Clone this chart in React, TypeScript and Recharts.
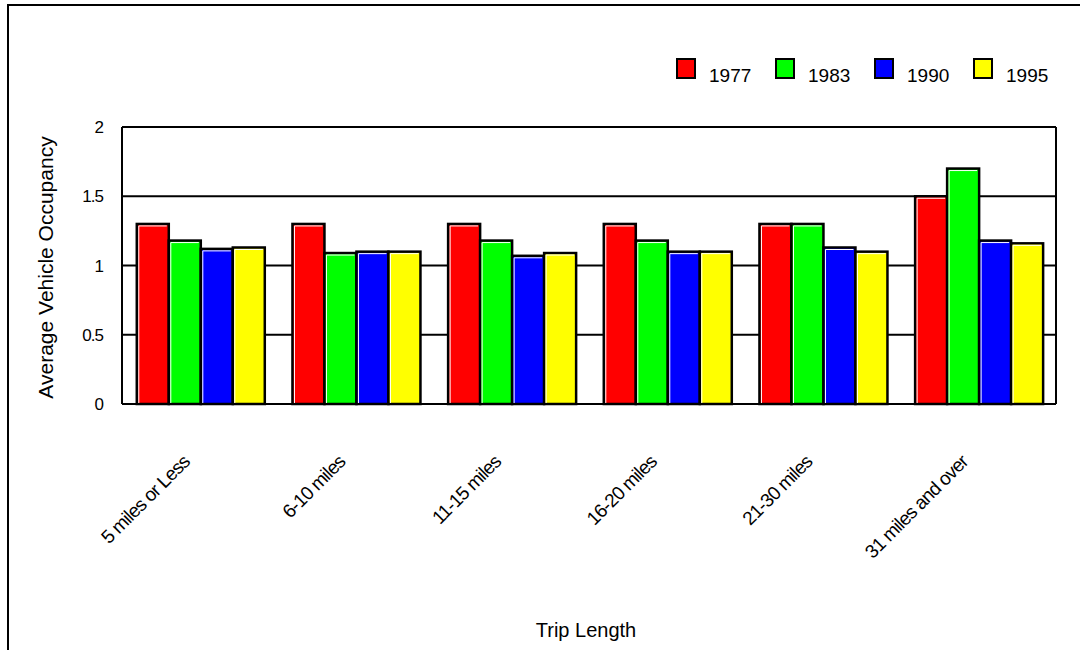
import { BarChart, Bar, XAxis, YAxis, CartesianGrid, Legend, Label } from "recharts";

const tripLengths = [
  "5 miles or Less",
  "6-10 miles",
  "11-15 miles",
  "16-20 miles",
  "21-30 miles",
  "31 miles and over",
];
const occ1977 = [1.3, 1.3, 1.3, 1.3, 1.3, 1.5];
const occ1983 = [1.18, 1.09, 1.18, 1.18, 1.3, 1.7];
const occ1990 = [1.12, 1.1, 1.07, 1.1, 1.13, 1.18];
const occ1995 = [1.13, 1.1, 1.09, 1.1, 1.1, 1.16];
const yTicks = [0, 0.5, 1, 1.5, 2];

const series = [
  { key: "y1977", name: "1977", color: "#ff0000" },
  { key: "y1983", name: "1983", color: "#00ff00" },
  { key: "y1990", name: "1990", color: "#0000ff" },
  { key: "y1995", name: "1995", color: "#ffff00" },
];

const data = tripLengths.map((trip, i) => ({
  trip,
  y1977: occ1977[i],
  y1983: occ1983[i],
  y1990: occ1990[i],
  y1995: occ1995[i],
}));

// bar with a black outline and a thin white bevel on the top/left edge
function BevelBar(props: any) {
  const { x, y, width, height, fill } = props;
  if (!height || height <= 0) return null;
  return (
    <g>
      <rect x={x} y={y} width={width} height={height} fill={fill} stroke="#000" strokeWidth={2.5} />
      <polyline
        points={`${x + 2},${y + height - 1} ${x + 2},${y + 2} ${x + width - 2},${y + 2}`}
        fill="none"
        stroke="#fff"
        strokeWidth={1}
      />
    </g>
  );
}

function TripTick(props: any) {
  const { x, y, payload } = props;
  const tx = x - 9;
  const ty = y + 51;
  return (
    <text
      x={tx}
      y={ty}
      transform={`rotate(-45 ${tx} ${ty})`}
      textAnchor="end"
      fontSize={19}
      letterSpacing={-0.8}
      fill="#000"
    >
      {payload.value}
    </text>
  );
}

function YearLegend(props: any) {
  const { payload } = props;
  return (
    <div style={{ display: "flex" }}>
      {payload.map((p: any) => (
        <div key={p.value} style={{ display: "flex", alignItems: "flex-start", width: 99 }}>
          <span
            style={{
              display: "inline-block",
              width: 16,
              height: 17,
              background: p.color,
              border: "2px solid #000",
            }}
          />
          <span style={{ marginLeft: 13, marginTop: 8, fontSize: 19, lineHeight: "19px", color: "#000" }}>
            {p.value}
          </span>
        </div>
      ))}
    </div>
  );
}

export default function App() {
  return (
    <div
      style={{
        position: "absolute",
        left: 0,
        top: 0,
        width: 1080,
        height: 650,
        overflow: "hidden",
        background: "#fff",
        fontFamily: "'Liberation Sans', Arial, sans-serif",
      }}
    >
      <div
        style={{
          position: "absolute",
          left: 7,
          top: 4,
          width: 2000,
          height: 2000,
          border: "2px solid #000",
        }}
      />
      <BarChart
        width={1080}
        height={650}
        data={data}
        margin={{ top: 127, right: 23, bottom: 0, left: 0 }}
        barCategoryGap="9.5%"
        barGap={0}
      >
        <CartesianGrid vertical={false} stroke="#000" strokeWidth={2} />
        <XAxis
          dataKey="trip"
          height={246}
          interval={0}
          tickLine={false}
          axisLine={{ stroke: "#000", strokeWidth: 2 }}
          tick={<TripTick />}
        >
          <Label
            content={(p: any) => {
              const vb = p.viewBox;
              return (
                <text x={vb.x + vb.width / 2 - 3} y={vb.y + 233} textAnchor="middle" fontSize={20} fill="#000">
                  Trip Length
                </text>
              );
            }}
          />
        </XAxis>
        <YAxis
          width={122}
          domain={[0, 2]}
          ticks={yTicks}
          tickLine={false}
          tickMargin={13}
          axisLine={{ stroke: "#000", strokeWidth: 2 }}
          tick={{ fontSize: 17, fill: "#000", letterSpacing: -1 }}
        >
          <Label
            content={(p: any) => {
              const vb = p.viewBox;
              const cx = vb.x + 45;
              const cy = vb.y + vb.height / 2 + 2;
              return (
                <text
                  x={cx}
                  y={cy}
                  transform={`rotate(-90 ${cx} ${cy})`}
                  textAnchor="middle"
                  dominantBaseline="central"
                  fontSize={21}
                  fill="#000"
                >
                  Average Vehicle Occupancy
                </text>
              );
            }}
          />
        </YAxis>
        <YAxis
          yAxisId="frame"
          orientation="right"
          width={1}
          domain={[0, 2]}
          tick={false}
          tickLine={false}
          axisLine={{ stroke: "#000", strokeWidth: 2 }}
        />
        <Legend
          layout="horizontal"
          align="center"
          verticalAlign="middle"
          wrapperStyle={{ top: 58, left: 676, width: 400 }}
          content={<YearLegend />}
        />
        {series.map((s) => (
          <Bar
            key={s.key}
            dataKey={s.key}
            name={s.name}
            fill={s.color}
            shape={<BevelBar />}
            isAnimationActive={false}
          />
        ))}
      </BarChart>
    </div>
  );
}
